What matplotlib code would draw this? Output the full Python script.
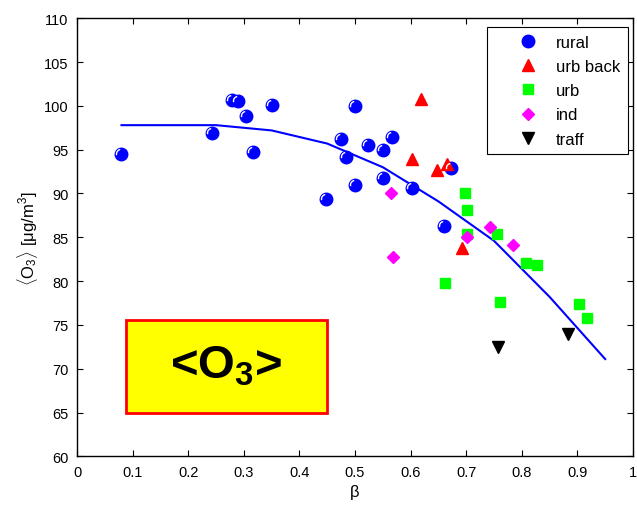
import numpy as np
import matplotlib
matplotlib.use('Agg')
import matplotlib.pyplot as plt
from matplotlib.path import Path
from matplotlib.patches import Rectangle

plt.rcParams['font.family'] = ['Liberation Sans', 'DejaVu Sans']
plt.rcParams['mathtext.fontset'] = 'custom'
plt.rcParams['mathtext.rm'] = 'Liberation Sans'
plt.rcParams['mathtext.it'] = 'Liberation Sans'
plt.rcParams['mathtext.bf'] = 'Liberation Sans:bold'

# station data: beta vs mean ozone
rural_x = [0.080, 0.242, 0.278, 0.290, 0.304, 0.316, 0.350, 0.500, 0.475, 0.484,
           0.447, 0.500, 0.524, 0.567, 0.551, 0.551, 0.602, 0.672, 0.660]
rural_y = [94.5, 96.9, 100.7, 100.6, 98.8, 94.7, 100.1, 100.0, 96.2, 94.2,
           89.4, 91.0, 95.5, 96.5, 95.0, 91.8, 90.6, 92.9, 86.3]

urbback_x = [0.618, 0.602, 0.647, 0.665, 0.692]
urbback_y = [100.8, 93.9, 92.7, 93.4, 83.8]

urb_x = [0.697, 0.702, 0.701, 0.756, 0.808, 0.828, 0.662, 0.761, 0.902, 0.918]
urb_y = [90.0, 88.1, 85.4, 85.4, 82.1, 81.8, 79.8, 77.6, 77.4, 75.8]

ind_x = [0.565, 0.569, 0.701, 0.743, 0.784]
ind_y = [90.1, 82.7, 85.0, 86.2, 84.1]

traff_x = [0.757, 0.884]
traff_y = [72.5, 74.0]

# fitted curve
fit_x = [0.08, 0.25, 0.35, 0.45, 0.55, 0.65, 0.75, 0.85, 0.95]
fit_y = [97.8, 97.8, 97.2, 95.7, 93.0, 89.1, 84.6, 78.2, 71.1]

# little white highlight on the blue balls (matlab-ish look)
def highlight_marker():
    arc = Path.arc(100, 195)
    verts = arc.vertices * 0.72 + np.array([-0.08, 0.08])
    verts = np.vstack([[[-1, -1]], [[1, 1]], verts])
    codes = [Path.MOVETO, Path.MOVETO] + list(arc.codes)
    return Path(verts, codes)

fig = plt.figure(figsize=(6.37, 5.06), dpi=100)
ax = fig.add_axes([0.1209, 0.0962, 0.8728, 0.8657])

ax.plot(fit_x, fit_y, color='#0000ff', lw=1.5, zorder=2)

ax.plot(rural_x, rural_y, 'o', color='#0000ff', ms=9, mec='#0000ff', zorder=3, label='rural')
ax.plot(rural_x, rural_y, linestyle='none', marker=highlight_marker(), ms=9,
        mfc='none', mec='white', mew=1.0, zorder=4)
ax.plot(urbback_x, urbback_y, '^', color='#ff0000', ms=9, mec='#ff0000', zorder=3, label='urb back')
ax.plot(urb_x, urb_y, 's', color='#00ff00', ms=7.5, mec='#00ff00', zorder=3, label='urb')
ax.plot(ind_x, ind_y, 'D', color='#ff00ff', ms=6, mec='#ff00ff', zorder=3, label='ind')
ax.plot(traff_x, traff_y, 'v', color='black', ms=9, zorder=3, label='traff')

ax.add_patch(Rectangle((0.088, 65.0), 0.361, 10.6, facecolor='#ffff00',
                       edgecolor='#ff0000', lw=2, zorder=1))
ax.text(0.2685, 70.4, r'<O$_\mathbf{3}$>', fontsize=34, fontweight='bold',
        ha='center', va='center', zorder=5)

ax.set_xlim(0, 1)
ax.set_ylim(60, 110)
ax.set_xticks(np.arange(0, 1.01, 0.1))
ax.set_xticklabels(['0', '0.1', '0.2', '0.3', '0.4', '0.5', '0.6', '0.7', '0.8', '0.9', '1'])
ax.set_yticks(np.arange(60, 111, 5))
ax.tick_params(direction='in', top=True, right=True, labelsize=10.5, length=4, width=0.8, pad=6)
for s in ax.spines.values():
    s.set_linewidth(1.0)

ax.set_xlabel(r'β', fontsize=12, labelpad=4)
ax.set_ylabel(r'$\langle$O$_3\rangle$ [μg/m$^3$]', fontsize=12, labelpad=3)

leg = ax.legend(loc='upper right', bbox_to_anchor=(0.991, 0.979), fontsize=12,
                fancybox=False, edgecolor='black', framealpha=1, numpoints=1,
                handlelength=4.0, handletextpad=-0.3, labelspacing=0.55,
                borderpad=0.45, borderaxespad=0)
leg.get_frame().set_linewidth(0.8)

plt.savefig('out.png', dpi=100)
